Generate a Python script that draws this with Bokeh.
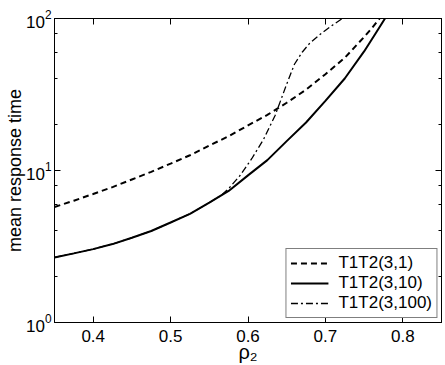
from bokeh.plotting import figure
from bokeh.models import (Range1d, FixedTicker, LogTicker, LinearAxis, LogAxis,
                          Legend, LegendItem, CustomJSTickFormatter)
from bokeh.embed import file_html
from bokeh.resources import INLINE

# ---- data ----
x_t1 = [0.35, 0.375, 0.40, 0.425, 0.45, 0.475, 0.50, 0.525, 0.55, 0.575,
        0.60, 0.625, 0.65, 0.675, 0.70, 0.725, 0.75, 0.76, 0.77]
y_t1 = [5.75, 6.33, 7.01, 7.78, 8.73, 9.8, 11.1, 12.6, 14.6, 16.8,
        19.8, 23.2, 27.9, 34.0, 43.0, 55.1, 75.6, 86.4, 100.0]

x_t10 = [0.35, 0.375, 0.40, 0.425, 0.45, 0.475, 0.50, 0.525, 0.55, 0.575,
         0.60, 0.625, 0.65, 0.675, 0.70, 0.725, 0.75, 0.765, 0.777]
y_t10 = [2.68, 2.85, 3.04, 3.28, 3.61, 4.0, 4.55, 5.19, 6.14, 7.34,
         9.29, 11.7, 15.6, 20.7, 28.7, 40.3, 60.7, 80.0, 100.0]

x_t100 = [0.35, 0.375, 0.40, 0.425, 0.45, 0.475, 0.50, 0.525, 0.55, 0.566,
          0.575, 0.59, 0.605, 0.62, 0.635, 0.65, 0.66, 0.67, 0.68, 0.695,
          0.71, 0.722]
y_t100 = [2.68, 2.85, 3.04, 3.28, 3.61, 4.0, 4.55, 5.19, 6.14, 6.9,
          7.6, 9.3, 12.0, 16.0, 23.0, 37.0, 50.0, 60.0, 69.0, 80.0,
          91.0, 100.0]

labels = ["T1T2(3,1)", "T1T2(3,10)", "T1T2(3,100)"]
x_ticks = [0.4, 0.5, 0.6, 0.7, 0.8]

FONT = "Liberation Sans"

p = figure(width=445, height=365, output_backend="svg", toolbar_location=None,
           y_axis_type="log", x_range=Range1d(0.35, 0.85), y_range=Range1d(1, 100),
           min_border_left=54, min_border_right=4, min_border_top=18,
           min_border_bottom=43)
p.background_fill_color = "white"
p.border_fill_color = "white"
p.outline_line_color = "black"
p.grid.visible = False

r1 = p.line(x_t1, y_t1, line_color="black", line_width=2, line_dash="6 4")
r2 = p.line(x_t10, y_t10, line_color="black", line_width=2)
r3 = p.line(x_t100, y_t100, line_color="black", line_width=1.3, line_dash="7 3 2 3")

def style(ax, show_labels=True):
    ax.axis_line_color = "black"
    ax.major_tick_line_color = "black"
    ax.minor_tick_line_color = "black"
    ax.major_tick_in = 6
    ax.major_tick_out = 0
    ax.minor_tick_in = 3
    ax.minor_tick_out = 0
    ax.major_label_text_font = FONT
    ax.major_label_text_color = "black"
    ax.axis_label_text_font = FONT
    ax.axis_label_text_font_style = "normal"
    ax.axis_label_text_color = "black"
    ax.major_label_text_font_size = "17px"
    if show_labels:
        ax.major_label_standoff = 3
    else:
        ax.formatter = CustomJSTickFormatter(code="return ''")
        ax.major_label_standoff = 0

xa = p.xaxis[0]
xa.ticker = FixedTicker(ticks=x_ticks)
style(xa)
xa.major_label_standoff = 7
xa.axis_label = "ρ₂"
xa.axis_label_text_font_size = "20px"
xa.axis_label_standoff = -4

ya = p.yaxis[0]
ya.ticker = LogTicker()
style(ya)
ya.axis_label = "mean response time"
ya.axis_label_text_font_size = "18px"
ya.axis_label_standoff = -2

top = LinearAxis(ticker=FixedTicker(ticks=x_ticks))
style(top, False)
p.add_layout(top, "above")
right = LogAxis(ticker=LogTicker())
style(right, False)
p.add_layout(right, "right")

legend = Legend(items=[LegendItem(label=labels[0], renderers=[r1]),
                       LegendItem(label=labels[1], renderers=[r2]),
                       LegendItem(label=labels[2], renderers=[r3])],
                location="bottom_right")
legend.border_line_color = "black"
legend.border_line_width = 1
legend.background_fill_color = "white"
legend.background_fill_alpha = 1
legend.label_text_font = FONT
legend.label_text_font_size = "17px"
legend.label_text_color = "black"
legend.glyph_width = 38
legend.glyph_height = 18
legend.label_height = 18
legend.spacing = 0
legend.padding = 4
legend.margin = 4
legend.label_standoff = 10
p.add_layout(legend)

open("out.html", "w").write(file_html(p, INLINE))
